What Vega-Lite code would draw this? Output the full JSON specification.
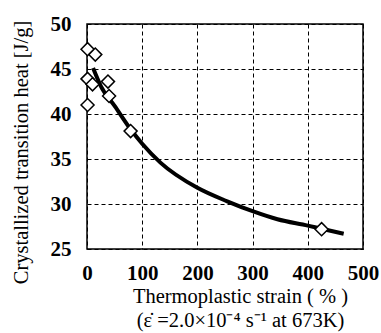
{
  "$schema": "https://vega.github.io/schema/vega-lite/v6.json",
  "autosize": {"type": "none"},
  "padding": {"left": 87, "top": 24, "right": 18, "bottom": 84},
  "width": 276,
  "height": 225,
  "background": "white",
  "config": {
    "view": {"stroke": "black", "strokeWidth": 1.5},
    "font": "Liberation Serif",
    "axis": {
      "labelFont": "Liberation Serif",
      "labelFontSize": 21,
      "labelFontWeight": "bold",
      "labelColor": "black",
      "labelFlush": false,
      "titleFont": "Liberation Serif",
      "titleFontWeight": "normal",
      "titleColor": "black"
    }
  },
  "datasets": {
    "points": [
      {"strain": 1, "heat": 47.2},
      {"strain": 15, "heat": 46.6},
      {"strain": 1, "heat": 43.9},
      {"strain": 10, "heat": 43.3},
      {"strain": 1, "heat": 41.0},
      {"strain": 38, "heat": 43.6},
      {"strain": 40, "heat": 42.0},
      {"strain": 79, "heat": 38.1},
      {"strain": 425, "heat": 27.2}
    ],
    "fit": [
      {"strain": 11, "heat": 45.1},
      {"strain": 25, "heat": 43.1},
      {"strain": 50, "heat": 40.9},
      {"strain": 79, "heat": 38.3},
      {"strain": 100, "heat": 36.7},
      {"strain": 133, "heat": 34.6},
      {"strain": 200, "heat": 31.8},
      {"strain": 254, "heat": 30.3},
      {"strain": 300, "heat": 29.2},
      {"strain": 345, "heat": 28.3},
      {"strain": 400, "heat": 27.6},
      {"strain": 425, "heat": 27.25},
      {"strain": 465, "heat": 26.7}
    ]
  },
  "layer": [
    {
      "data": {"name": "fit"},
      "mark": {"type": "line", "color": "black", "strokeWidth": 4, "interpolate": "monotone"},
      "encoding": {
        "x": {
          "field": "strain", "type": "quantitative",
          "scale": {"domain": [0, 500], "nice": false},
          "axis": {
            "values": [0, 100, 200, 300, 400, 500],
            "grid": true,
            "gridColor": "black",
            "gridDash": [4, 3],
            "gridWidth": 1,
            "gridOpacity": 1,
            "domain": false,
            "ticks": false,
            "labelPadding": 13,
            "title": ["Thermoplastic strain ( % )", "(ε̇ =2.0×10⁻⁴ s⁻¹  at 673K)"],
            "titleFontSize": 20.5,
            "titleLineHeight": 24,
            "titleBaseline": "top",
            "titleX": 153,
            "titleY": 37
          }
        },
        "y": {
          "field": "heat", "type": "quantitative",
          "scale": {"domain": [25, 50], "nice": false, "zero": false},
          "axis": {
            "values": [25, 30, 35, 40, 45, 50],
            "grid": true,
            "gridColor": "black",
            "gridDash": [4, 3],
            "gridWidth": 1,
            "gridOpacity": 1,
            "domain": false,
            "ticks": false,
            "labelPadding": 16,
            "title": "Crystallized transition heat [J/g]",
            "titleFontSize": 20.5,
            "titleBaseline": "middle",
            "titleX": -66,
            "titleY": 128
          }
        }
      }
    },
    {
      "data": {"name": "points"},
      "mark": {"type": "point", "shape": "diamond", "filled": true, "fill": "white", "stroke": "black", "strokeWidth": 1.5, "size": 170, "opacity": 1},
      "encoding": {
        "x": {"field": "strain", "type": "quantitative"},
        "y": {"field": "heat", "type": "quantitative"}
      }
    }
  ]
}
